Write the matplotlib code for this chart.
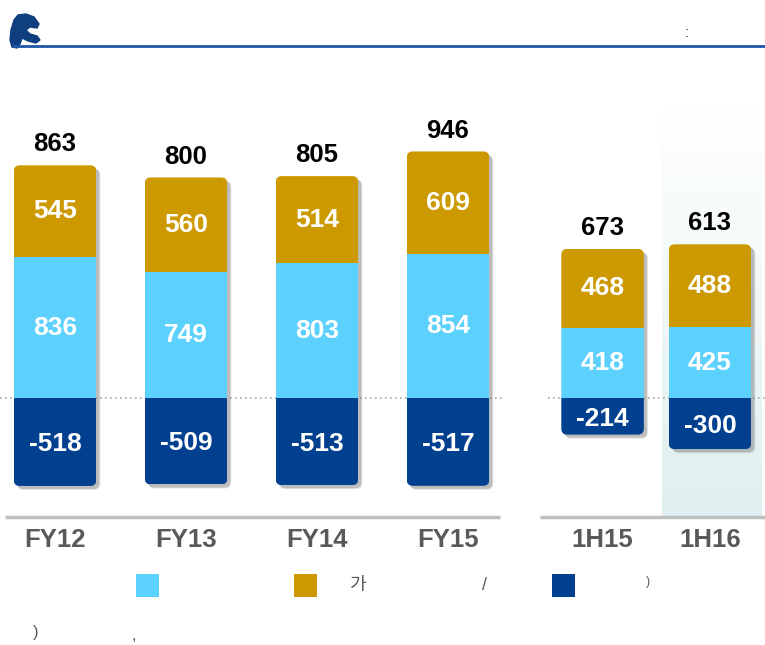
import numpy as np
import matplotlib.pyplot as plt
from matplotlib.patches import FancyBboxPatch, Rectangle, Polygon
from matplotlib import transforms

# data
periods = ['FY12', 'FY13', 'FY14', 'FY15', '1H15', '1H16']
x_pos = [0, 1, 2, 3, 4.18, 5.0]
light = [836, 749, 803, 854, 418, 425]
gold = [545, 560, 514, 609, 468, 488]
dark = [-518, -509, -513, -517, -214, -300]
net = [863, 800, 805, 946, 673, 613]

C_LIGHT = '#5dd1fe'
C_GOLD = '#cc9900'
C_DARK = '#00408f'
C_TEXT = '#595959'

plt.rcParams['font.family'] = ['Liberation Sans', 'Noto Sans CJK KR', 'DejaVu Sans']

W, H = 765, 645
fig = plt.figure(figsize=(W / 100, H / 100), dpi=100)
ax = fig.add_axes([0, 0, 1, 1])
xlim = (-0.42, 5.42)
ylim = (-1460, 2360)

# data units per pixel, used for rounded corners
x_per_px = (xlim[1] - xlim[0]) / W
y_per_px = (ylim[1] - ylim[0]) / H
aspect = y_per_px / x_per_px

width = 0.63
radius = 6 * x_per_px
base_y = -119 * y_per_px

# shaded background behind the latest half-year
grad = np.linspace(0, 1, 256).reshape(-1, 1)
cmap = plt.matplotlib.colors.LinearSegmentedColormap.from_list('bg', ['#ffffff', '#e0efef'])
ax.imshow(grad, extent=[x_pos[5] - 0.366, x_pos[5] + 0.397, base_y, 289 * y_per_px],
          aspect='auto', cmap=cmap, origin='upper', zorder=0)

# zero line (dotted) and base lines
ax.plot([xlim[0], 3.43], [0, 0], color='#a6a6a6', lw=1.2, ls=(0, (1, 2)), zorder=1)
ax.plot([3.76, xlim[1]], [0, 0], color='#a6a6a6', lw=1.2, ls=(0, (1, 2)), zorder=1)
ax.plot([-0.38, 3.40], [base_y, base_y], color='#bfbfbf', lw=2.5, zorder=1, solid_capstyle='butt')
ax.plot([3.70, xlim[1]], [base_y, base_y], color='#bfbfbf', lw=2.5, zorder=1, solid_capstyle='butt')

for i, x in enumerate(x_pos):
    top = light[i] + gold[i]
    box = dict(boxstyle=f'round,pad=0,rounding_size={radius}', mutation_aspect=aspect)
    # soft shadow
    for off, a in [(4, 0.25), (3, 0.35)]:
        tr = transforms.offset_copy(ax.transData, fig=fig, x=off, y=-off, units='dots')
        sh = FancyBboxPatch((x - width / 2, dark[i]), width, top - dark[i], transform=tr,
                            facecolor='#7f7f7f', edgecolor='none', alpha=a, zorder=2, **box)
        ax.add_patch(sh)
    clip = FancyBboxPatch((x - width / 2, dark[i]), width, top - dark[i],
                          facecolor='none', edgecolor='none', zorder=3, **box)
    ax.add_patch(clip)
    bars = [
        ax.bar(x, dark[i], width, color=C_DARK, zorder=3),
        ax.bar(x, light[i], width, color=C_LIGHT, zorder=3),
        ax.bar(x, gold[i], width, bottom=light[i], color=C_GOLD, zorder=3),
    ]
    for bc in bars:
        for b in bc:
            b.set_clip_path(clip)

    lbl = dict(ha='center', va='center', color='white', fontsize=19, fontweight='bold', zorder=5)
    ax.text(x, dark[i] / 2 - 12, f'{dark[i]}', **lbl)
    ax.text(x, light[i] / 2, f'{light[i]}', **lbl)
    ax.text(x, light[i] + gold[i] / 2, f'{gold[i]}', **lbl)
    ax.annotate(f'{net[i]}', (x, top), xytext=(0, 15), textcoords='offset points',
                ha='center', va='center', fontsize=18.5, fontweight='bold', color='black')
    ax.text(x, -142 * y_per_px, periods[i], ha='center', va='center', fontsize=18.5,
            fontweight='bold', color=C_TEXT)

ax.set_xlim(*xlim)
ax.set_ylim(*ylim)
ax.axis('off')


def fx(px):
    return px / W


def fy(py):
    return 1 - py / H


# header line and logo
fig.add_artist(plt.Line2D([fx(14), fx(765)], [fy(46), fy(46)], color='#1f55a5', lw=2))
logo = [(14, 20), (18, 15), (26, 14), (34, 17), (39, 24), (37, 28), (30, 27), (26, 30), (30, 34),
        (37, 36), (40, 40), (36, 43), (28, 41), (22, 38), (20, 44), (17, 48), (12, 47),
        (10, 40), (11, 30)]
fig.add_artist(Polygon([(fx(a), fy(b)) for a, b in logo], closed=True,
                       facecolor='#0f3f80', edgecolor='#0f3f80', lw=1))
fig.text(fx(687), fy(33), ':', ha='center', va='center', fontsize=11, color='#404040')

# legend
for px, c in [(136, C_LIGHT), (294, C_GOLD), (552, C_DARK)]:
    fig.add_artist(Rectangle((fx(px), fy(597)), 23 / W, 23 / H, transform=fig.transFigure,
                             facecolor=c, edgecolor='none'))
fig.text(fx(357), fy(585), '가', ha='center', va='center', fontsize=13, color=C_TEXT,
         family=['Noto Sans CJK KR', 'DejaVu Sans'])
fig.text(fx(484), fy(585), '/', ha='center', va='center', fontsize=13, color=C_TEXT)
fig.text(fx(648), fy(582), ')', ha='center', va='center', fontsize=9, color=C_TEXT)
fig.text(fx(36), fy(633), ')', ha='center', va='center', fontsize=12, color=C_TEXT)
fig.text(fx(134), fy(635), ',', ha='center', va='center', fontsize=12, color=C_TEXT)

fig.savefig('out.png', dpi=100)
